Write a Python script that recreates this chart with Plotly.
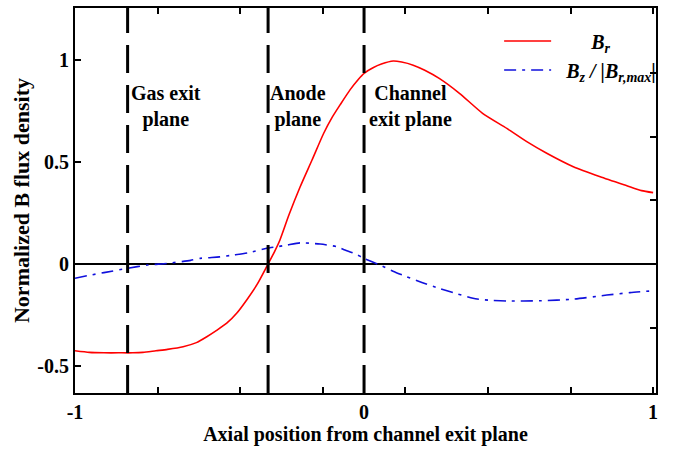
import plotly.graph_objects as go

# ---- data ----
br_x = [-1.0, -0.95, -0.9, -0.85, -0.80, -0.765, -0.72, -0.68, -0.626, -0.58, -0.544, -0.51,
        -0.475, -0.44, -0.406, -0.37, -0.337, -0.31, -0.291, -0.26, -0.221, -0.18, -0.14,
        -0.11, -0.083, -0.048, -0.02, 0.0, 0.031, 0.06, 0.101, 0.13, 0.17, 0.21, 0.26,
        0.33, 0.41, 0.494, 0.563, 0.632, 0.724, 0.817, 0.909, 0.96, 1.0]
br_y = [-0.425, -0.433, -0.435, -0.435, -0.435, -0.433, -0.425, -0.418, -0.405, -0.385,
        -0.356, -0.325, -0.29, -0.24, -0.176, -0.10, -0.013, 0.06, 0.118, 0.24, 0.379,
        0.51, 0.64, 0.72, 0.78, 0.855, 0.905, 0.935, 0.962, 0.98, 0.995, 0.99, 0.975,
        0.95, 0.91, 0.837, 0.739, 0.665, 0.60, 0.543, 0.477, 0.428, 0.384, 0.36, 0.35]

bz_x = [-1.0, -0.95, -0.9, -0.818, -0.75, -0.683, -0.6, -0.567, -0.5, -0.452, -0.4, -0.337,
        -0.3, -0.267, -0.221, -0.152, -0.094, -0.066, -0.03, 0.0, 0.055, 0.1, 0.147, 0.2,
        0.26, 0.32, 0.377, 0.43, 0.494, 0.609, 0.724, 0.84, 0.92, 1.0]
bz_y = [-0.07, -0.055, -0.042, -0.021, -0.005, 0.003, 0.018, 0.028, 0.035, 0.044, 0.055,
        0.077, 0.085, 0.093, 0.104, 0.098, 0.085, 0.069, 0.05, 0.028, -0.005, -0.035,
        -0.062, -0.09, -0.119, -0.145, -0.168, -0.177, -0.181, -0.18, -0.172, -0.152,
        -0.14, -0.131]

plane_x = [-0.818, -0.332, 0.0]
plane_labels = ["Gas exit<br>plane", "Anode<br>plane", "Channel<br>exit plane"]
plane_label_x = [-0.685, -0.228, 0.16]

x_tickvals = [-1, -5/7, -3/7, -1/7, 0, 1/7, 3/7, 5/7, 1]
x_ticktext = ["-1", "", "", "", "0", "", "", "", "1"]
y_tickvals = [-0.5, 0, 0.5, 1]
y_ticktext = ["-0.5", "0", "0.5", "1"]
y2_tickvals = [-0.3125, 0.0, 0.3125, 0.625, 0.9375]

FONT = "Liberation Serif"
NB = "&nbsp;"

fig = go.Figure()
fig.add_trace(go.Scatter(
    x=br_x, y=br_y, mode="lines",
    name=NB * 7 + "<b><i>B</i></b><sub><b><i>r</i></b></sub>",
    line=dict(color="#ff0000", width=1.6, shape="spline", smoothing=0.6)))
fig.add_trace(go.Scatter(
    x=bz_x, y=bz_y, mode="lines", yaxis="y2",
    name=NB * 2 + "<b><i>B</i></b><sub><b><i>z</i></b></sub><b><i> / |B</i></b><sub><b><i>r,max</i></b></sub><b>|</b>",
    line=dict(color="#1010dd", width=1.6, dash="12px,6px,3px,6px", shape="spline", smoothing=0.6)))

for xv in plane_x:
    fig.add_shape(type="line", x0=xv, x1=xv, y0=0, y1=1, xref="x", yref="paper",
                  line=dict(color="black", width=3, dash="28px,12px"))

for txt, xv in zip(plane_labels, plane_label_x):
    fig.add_annotation(x=xv, y=0.745, xref="x", yref="paper", text="<b>" + txt + "</b>",
                       showarrow=False, font=dict(family=FONT, size=20, color="black"),
                       align="center", yanchor="middle")

fig.update_layout(
    width=675, height=449,
    margin=dict(l=75, r=19, t=8, b=56, autoexpand=False),
    paper_bgcolor="white", plot_bgcolor="white",
    font=dict(family=FONT, size=20, color="black"),
    showlegend=True,
    legend=dict(x=0.73, y=0.965, xanchor="left", yanchor="top", bgcolor="rgba(0,0,0,0)",
                itemwidth=47, font=dict(family=FONT, size=20), tracegroupgap=0),
    xaxis=dict(range=[-1, 1.01], tickvals=x_tickvals,
               ticktext=["<b>%s</b>" % t if t else "" for t in x_ticktext],
               ticks="inside", ticklen=6, tickwidth=1.5, tickcolor="black",
               showline=True, linecolor="black", linewidth=2, mirror="ticks",
               showgrid=False, zeroline=False, automargin=False,
               tickfont=dict(family=FONT, size=20),
               title=dict(text="<b>Axial position from channel exit plane</b>",
                          font=dict(family=FONT, size=20), standoff=5)),
    yaxis=dict(range=[-0.632, 1.255], tickvals=y_tickvals,
               ticktext=["<b>%s</b>" % t for t in y_ticktext],
               ticks="inside", ticklen=6, tickwidth=1.5, tickcolor="black",
               showline=True, linecolor="black", linewidth=2, mirror=True,
               showgrid=False, zeroline=True, zerolinecolor="black", zerolinewidth=1.5,
               automargin=False,
               tickfont=dict(family=FONT, size=20),
               title=dict(text="<b>Normalized B flux density</b>",
                          font=dict(family=FONT, size=22), standoff=2)),
    yaxis2=dict(range=[-0.632, 1.255], overlaying="y", side="right",
                tickvals=y2_tickvals, showticklabels=False, automargin=False,
                ticks="inside", ticklen=6, tickwidth=1.5, tickcolor="black",
                showline=False, showgrid=False, zeroline=False),
)

fig.write_html("out.html", config={"displayModeBar": False},
               post_script="document.body.style.margin='0';document.body.style.overflow='hidden';")
